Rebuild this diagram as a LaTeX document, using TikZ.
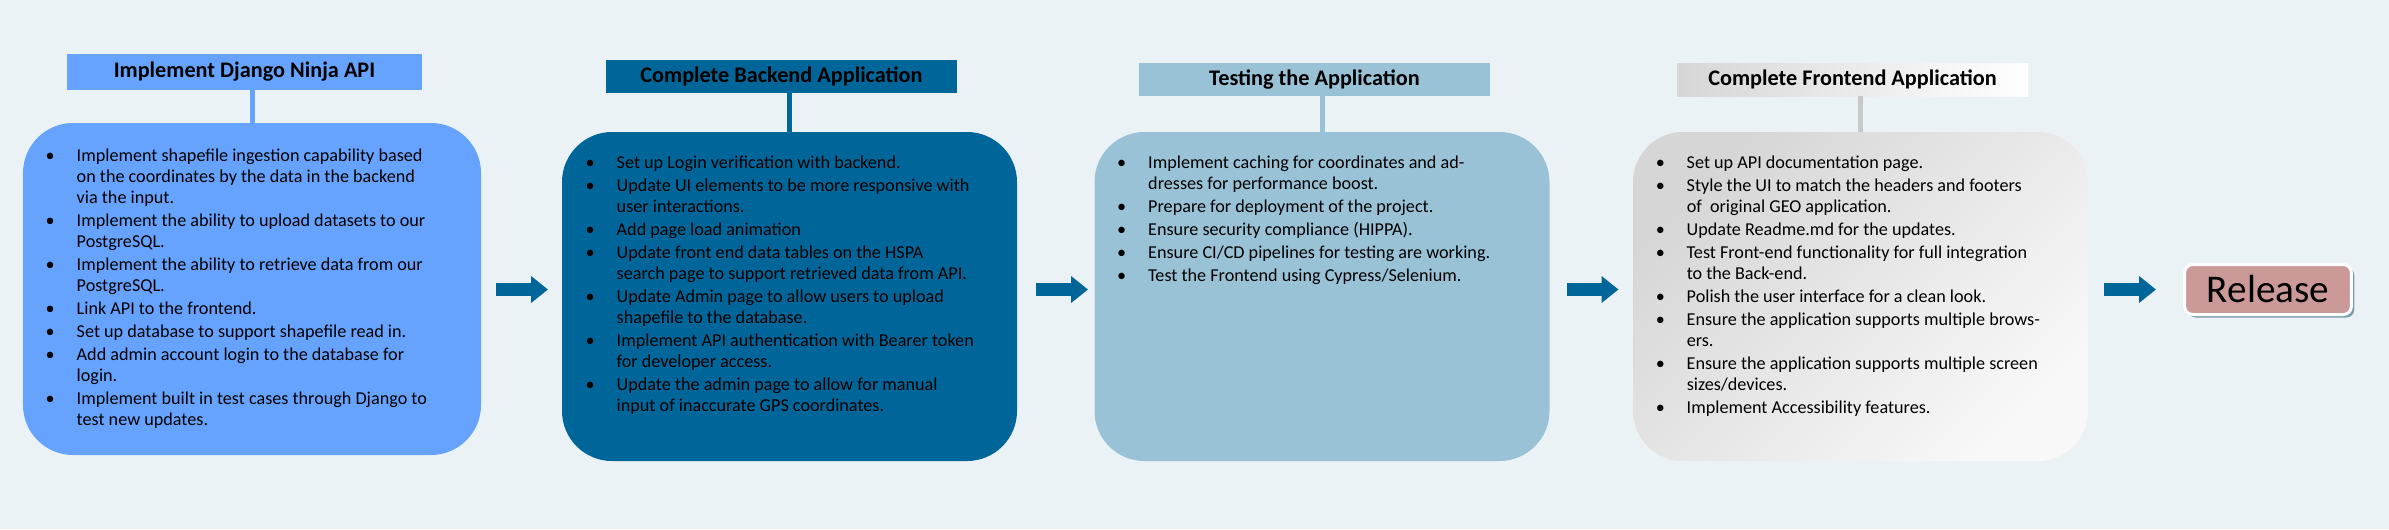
\documentclass[tikz,border=0pt]{standalone}
\usepackage{fontspec}
\setmainfont{Carlito}
\usepackage{tikz}
\usetikzlibrary{calc, arrows.meta, shadows}
\usetikzlibrary{positioning}

\definecolor{bgc}{HTML}{EBF2F6}
\definecolor{ninja}{HTML}{66A3FF}
\definecolor{backend}{HTML}{006699}
\definecolor{testing}{HTML}{99C2D6}
\definecolor{frontA}{HTML}{D6D6D6}
\definecolor{frontB}{HTML}{F8F8F8}
\definecolor{relfill}{HTML}{CC9999}
\definecolor{relshade}{HTML}{7D9DB0}

\newcommand{\listfont}{\fontsize{15.5}{17.93}\selectfont}
\newcommand{\headfont}{\fontsize{19}{22}\selectfont\bfseries}

\tikzset{
  phase/.style={rectangle, rounded corners=15mm, inner sep=0pt, outer sep=0pt,
                minimum width=136.5mm, minimum height=98.7mm},
  head/.style={rectangle, inner sep=0pt, outer sep=0pt, font=\headfont,
               minimum width=105.3mm, minimum height=9.9mm},
  tasks/.style={anchor=north west, inner sep=0pt, font=\listfont, align=left},
  link/.style={line width=1.5mm},
  flow/.style={line width=4.05mm, draw=backend, -{Triangle[length=5.1mm, width=7.8mm]}},
}

\begin{document}
\begin{tikzpicture}[x=0.3mm, y=-0.3mm]
  \fill[bgc] (0,0) rectangle (2389,529); %background
  \useasboundingbox (0,0) rectangle (2389,529);

  % titles
  \node[head, fill=ninja, minimum width=106.5mm, minimum height=10.8mm] (t1) at (244.5,72) {Implement Django Ninja API};
  \node[head, fill=backend] (t2) at (781.5,76.5) {Complete Backend Application};
  \node[head, fill=testing] (t3) at (1314.5,79.5) {Testing the Application};
  \node[head, left color=frontA, right color=white] (t4) at (1852.5,79.5) {Complete Frontend Application};

  % phases
  \node[phase, fill=ninja, minimum width=137.4mm, minimum height=99.6mm] (b1) at (252,289) {};
  \node[phase, fill=backend] (b2) at (789.5,296.5) {};
  \node[phase, fill=testing] (b3) at (1322,296.5) {};
  \node[phase, top color=frontA, bottom color=frontB, shading angle=45] (b4) at (1860.5,296.5) {};

  \draw[link, ninja] (t1.south -| b1.north) -- (b1.north);
  \draw[link, backend] (t2.south -| b2.north) -- (b2.north);
  \draw[link, testing] (t3.south -| b3.north) -- (b3.north);
  \draw[link, black!21] (t4.south -| b4.north) -- (b4.north);

  \node[tasks] (l1) at ($(b1.north west)+(22.5,24)$) {%
    \begin{tabular}{@{}p{9.3mm}@{}l@{}}
      \textbullet & Implement shapefile ingestion capability based\\
                  & on the coordinates by the data in the backend\\
                  & via the input.\\[1.7pt]
      \textbullet & Implement the ability to upload datasets to our\\
                  & PostgreSQL.\\[1.7pt]
      \textbullet & Implement the ability to retrieve data from our\\
                  & PostgreSQL.\\[1.7pt]
      \textbullet & Link API to the frontend.\\[1.7pt]
      \textbullet & Set up database to support shapefile read in.\\[1.7pt]
      \textbullet & Add admin account login to the database for\\
                  & login.\\[1.7pt]
      \textbullet & Implement built in test cases through Django to\\
                  & test new updates.
    \end{tabular}};

  \node[tasks] (l2) at ($(b2.north west)+(23.5,22)$) {%
    \begin{tabular}{@{}p{9.3mm}@{}l@{}}
      \textbullet & Set up Login verification with backend.\\[1.7pt]
      \textbullet & Update UI elements to be more responsive with\\
                  & user interactions.\\[1.7pt]
      \textbullet & Add page load animation\\[1.7pt]
      \textbullet & Update front end data tables on the HSPA\\
                  & search page to support retrieved data from API.\\[1.7pt]
      \textbullet & Update Admin page to allow users to upload\\
                  & shapefile to the database.\\[1.7pt]
      \textbullet & Implement API authentication with Bearer token\\
                  & for developer access.\\[1.7pt]
      \textbullet & Update the admin page to allow for manual\\
                  & input of inaccurate GPS coordinates.
    \end{tabular}};

  \node[tasks] (l3) at ($(b3.north west)+(22.5,22)$) {%
    \begin{tabular}{@{}p{9.3mm}@{}l@{}}
      \textbullet & Implement caching for coordinates and ad-\\
                  & dresses for performance boost.\\[1.7pt]
      \textbullet & Prepare for deployment of the project.\\[1.7pt]
      \textbullet & Ensure security compliance (HIPPA).\\[1.7pt]
      \textbullet & Ensure CI/CD pipelines for testing are working.\\[1.7pt]
      \textbullet & Test the Frontend using Cypress/Selenium.
    \end{tabular}};

  \node[tasks] (l4) at ($(b4.north west)+(22.5,22)$) {%
    \begin{tabular}{@{}p{9.3mm}@{}l@{}}
      \textbullet & Set up API documentation page.\\[1.7pt]
      \textbullet & Style the UI to match the headers and footers\\
                  & of~ original GEO application.\\[1.7pt]
      \textbullet & Update Readme.md for the updates.\\[1.7pt]
      \textbullet & Test Front-end functionality for full integration\\
                  & to the Back-end.\\[1.7pt]
      \textbullet & Polish the user interface for a clean look.\\[1.7pt]
      \textbullet & Ensure the application supports multiple brows-\\
                  & ers.\\[1.7pt]
      \textbullet & Ensure the application supports multiple screen\\
                  & sizes/devices.\\[1.7pt]
      \textbullet & Implement Accessibility features.
    \end{tabular}};

  % release
  \node[rectangle, rounded corners=2.4mm, fill=relfill, draw=white, line width=0.9mm,
        minimum width=50mm, minimum height=15mm, font=\fontsize{33.5}{38}\selectfont,
        drop shadow={shadow xshift=0.9mm, shadow yshift=-0.9mm, fill=relshade, opacity=1}]
        (rel) at (2268,289.5) {Release};

  % arrows
  \draw[flow] (b1.east |- rel) ++(15,0) -- ++(52,0);
  \draw[flow] (b2.east |- rel) ++(19,0) -- ++(52,0);
  \draw[flow] (b3.east |- rel) ++(17,0) -- ++(52,0);
  \draw[flow] (b4.east |- rel) ++(16,0) -- ++(52,0);
\end{tikzpicture}
\end{document}
